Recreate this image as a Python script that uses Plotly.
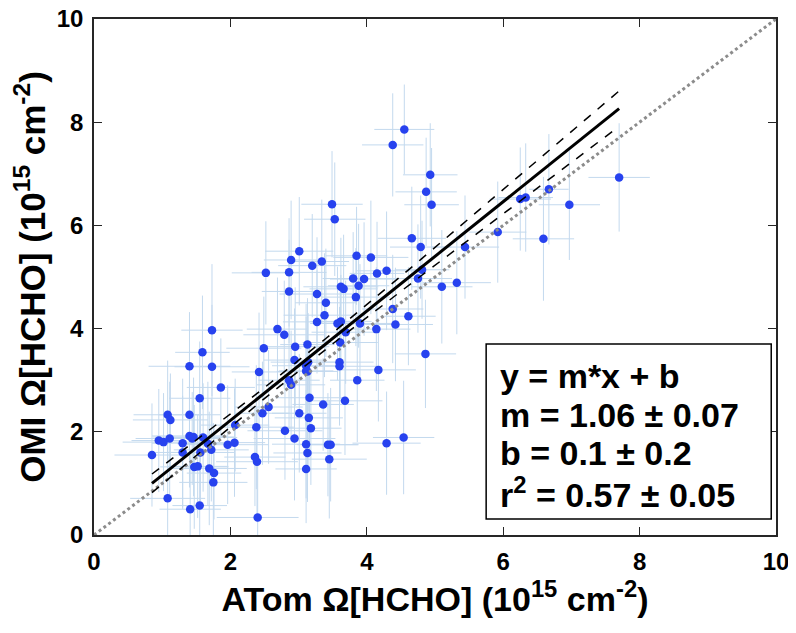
import numpy as np
import plotly.graph_objects as go

# ATom (x) and OMI (y) HCHO columns, 1e15 cm-2
atom = [2.52, 1.73, 1.59, 1.40, 1.73, 1.86, 1.55, 2.49, 2.42, 1.08,
        1.12, 1.40, 0.95, 1.02, 1.11, 1.30, 1.40, 1.46, 1.44, 1.60,
        1.67, 1.72, 1.56, 1.30, 0.85, 1.96, 2.06, 2.07, 2.38, 2.47,
        2.56, 2.36, 2.39, 1.47, 1.52, 1.69, 1.76, 1.75, 1.08, 1.41,
        1.55, 2.40, 4.55, 4.38, 3.49, 3.53, 4.66, 3.01, 2.89, 3.85,
        4.06, 3.20, 3.34, 2.86, 3.80, 3.96, 4.15, 4.29, 3.62, 3.66,
        3.88, 2.86, 3.27, 3.84, 3.40, 3.38, 3.27, 3.57, 3.62, 3.90,
        3.69, 4.38, 4.61, 4.42, 4.14, 2.69, 2.79, 2.95, 3.13, 3.61,
        2.94, 3.11, 3.14, 3.11, 3.13, 3.60, 3.60, 2.86, 2.89, 3.86,
        4.17, 3.16, 3.36, 3.68, 3.01, 3.15, 3.18, 2.80, 2.94, 3.11,
        3.43, 3.47, 3.13, 3.45, 3.11, 4.29, 4.54, 4.86, 7.70, 6.67,
        6.97, 6.25, 6.33, 5.92, 6.59, 5.44, 5.32, 4.93, 4.87, 4.95,
        4.79, 4.75, 4.81, 5.10]
omi = [5.08, 3.97, 3.54, 3.27, 3.26, 2.86, 2.65, 3.62, 3.16, 2.33,
       2.23, 2.33, 1.83, 1.80, 1.87, 1.78, 1.92, 1.90, 1.87, 1.89,
       1.77, 1.65, 1.60, 1.60, 1.55, 1.75, 1.79, 2.13, 2.09, 2.36,
       2.48, 1.51, 1.42, 1.32, 1.33, 1.29, 1.20, 1.02, 0.71, 0.50,
       0.57, 0.34, 7.86, 7.56, 6.41, 6.12, 5.75, 5.50, 5.33, 5.41,
       5.38, 5.22, 5.30, 5.09, 4.97, 4.96, 5.07, 5.12, 4.81, 4.77,
       4.83, 4.72, 4.67, 4.61, 4.50, 4.26, 4.13, 4.10, 4.14, 4.10,
       3.93, 4.38, 4.24, 4.08, 3.99, 3.99, 3.88, 3.65, 3.69, 3.73,
       3.39, 3.28, 3.35, 3.18, 3.17, 3.35, 3.27, 3.00, 2.91, 3.00,
       3.20, 2.66, 2.53, 2.60, 2.36, 2.27, 2.07, 2.02, 1.87, 1.76,
       1.75, 1.75, 1.59, 1.47, 1.28, 1.78, 1.89, 3.51, 6.93, 6.70,
       6.40, 6.51, 6.54, 5.87, 5.74, 5.58, 4.89, 6.98, 6.65, 6.40,
       5.58, 4.97, 5.14, 4.81]
atom_err = [0.50, 0.45, 0.40, 0.60, 0.55, 0.50, 0.45, 0.55, 0.40, 0.50,
            0.55, 0.45, 0.40, 0.60, 0.50, 0.45, 0.55, 0.60, 0.40, 0.50,
            0.45, 0.55, 0.50, 0.40, 0.55, 0.60, 0.45, 0.50, 0.55, 0.40,
            0.50, 0.45, 0.60, 0.50, 0.45, 0.55, 0.40, 0.50, 0.55, 0.45,
            0.40, 0.60, 0.44, 0.45, 0.45, 0.45, 0.50, 0.50, 0.40, 0.45,
            0.55, 0.50, 0.40, 0.55, 0.45, 0.50, 0.40, 0.45, 0.55, 0.50,
            0.45, 0.40, 0.55, 0.50, 0.45, 0.60, 0.50, 0.40, 0.45, 0.55,
            0.50, 0.45, 0.40, 0.55, 0.50, 0.45, 0.60, 0.50, 0.40, 0.55,
            0.45, 0.50, 0.55, 0.40, 0.45, 0.50, 0.60, 0.45, 0.50, 0.40,
            0.55, 0.50, 0.45, 0.55, 0.40, 0.50, 0.45, 0.55, 0.60, 0.50,
            0.45, 0.40, 0.50, 0.55, 0.45, 0.50, 0.45, 0.45, 0.45, 0.29,
            0.45, 0.45, 0.40, 0.42, 0.45, 0.50, 0.50, 0.40, 0.45, 0.40,
            0.45, 0.50, 0.40, 0.45]
omi_err = [1.00, 1.28, 1.10, 1.05, 1.20, 0.95, 1.10, 1.00, 1.15, 1.05,
           0.90, 1.20, 1.00, 0.95, 1.10, 1.25, 1.00, 1.15, 0.90, 1.05,
           1.20, 1.00, 0.95, 1.10, 1.00, 1.15, 1.05, 0.90, 1.20, 1.00,
           1.10, 0.95, 1.05, 1.20, 1.00, 1.10, 0.90, 1.15, 1.00, 1.05,
           0.95, 1.10, 0.87, 1.00, 1.03, 1.10, 1.00, 1.05, 1.15, 0.95,
           1.10, 1.00, 1.20, 1.05, 0.90, 1.10, 1.00, 1.15, 0.95, 1.05,
           1.20, 1.00, 1.10, 0.95, 1.05, 1.20, 1.00, 1.10, 0.90, 1.15,
           1.00, 1.05, 0.95, 1.10, 1.20, 1.00, 1.05, 1.15, 0.90, 1.10,
           1.00, 1.20, 0.95, 1.05, 1.10, 1.00, 1.15, 0.95, 1.05, 1.20,
           1.00, 1.10, 0.90, 1.05, 1.15, 1.00, 1.10, 0.95, 1.20, 1.05,
           1.00, 1.10, 0.95, 1.15, 1.05, 1.00, 1.10, 1.05, 1.05, 1.07,
           1.07, 1.00, 1.05, 0.98, 1.20, 1.00, 1.00, 1.00, 1.05, 1.10,
           1.00, 1.05, 0.95, 1.10]

# fit parameters (y = m*x + b)
m_fit, m_unc = 1.06, 0.07
b_fit, b_unc = 0.1, 0.2
r2, r2_unc = 0.57, 0.05
band_center_x = 3.0
band_offset = 0.1

tick_vals = [0, 2, 4, 6, 8, 10]
tick_text = ["0", "2", "4", "6", "8", "10"]
box_lines = ["y = m*x + b",
             "m = 1.06 \u00b1 0.07",
             "b = 0.1 \u00b1 0.2",
             "r<sup>2</sup> = 0.57 \u00b1 0.05"]

FONT = "Liberation Sans, Arial, Helvetica, sans-serif"

fig = go.Figure()

fig.add_trace(go.Scatter(
    x=atom, y=omi, mode="markers",
    marker=dict(color="#2742ef", size=8.5, line=dict(width=0)),
    error_x=dict(type="data", array=atom_err, color="#c3d9ee", thickness=1, width=0),
    error_y=dict(type="data", array=omi_err, color="#c3d9ee", thickness=1, width=0),
    showlegend=False, hoverinfo="x+y"))

# 1:1 line
fig.add_trace(go.Scatter(x=[0, 10], y=[0, 10], mode="lines",
                         line=dict(color="#8c8c8c", width=3, dash="dot"),
                         showlegend=False, hoverinfo="skip"))

xf = np.linspace(min(atom), max(atom), 60)
yf = m_fit * xf + b_fit
w = np.sqrt(band_offset ** 2 + (m_unc * (xf - band_center_x)) ** 2)

fig.add_trace(go.Scatter(x=xf, y=yf + w, mode="lines",
                         line=dict(color="black", width=1.5, dash="dash"),
                         showlegend=False, hoverinfo="skip"))
fig.add_trace(go.Scatter(x=xf, y=yf - w, mode="lines",
                         line=dict(color="black", width=1.5, dash="dash"),
                         showlegend=False, hoverinfo="skip"))
fig.add_trace(go.Scatter(x=xf, y=yf, mode="lines",
                         line=dict(color="black", width=3),
                         showlegend=False, hoverinfo="skip"))

# stats box
fig.add_shape(type="rect", xref="x", yref="y", x0=5.75, x1=9.93, y0=0.31, y1=3.70,
              line=dict(color="black", width=1.5), fillcolor="white", layer="above")
for txt, yy in zip(box_lines, [3.08, 2.33, 1.59, 0.83]):
    fig.add_annotation(x=5.92, y=yy, xref="x", yref="y", text=txt, showarrow=False,
                       xanchor="left", yanchor="middle",
                       font=dict(family=FONT, size=34, color="black", weight="bold"))

axis_common = dict(
    range=[0, 10], tickvals=tick_vals, ticktext=tick_text,
    ticks="inside", ticklen=8, tickwidth=1.2, tickcolor="#262626",
    showline=True, linecolor="#262626", linewidth=1.5, mirror="ticks",
    showgrid=False, zeroline=False, automargin=False,
    ticklabeloverflow="allow",
    tickfont=dict(family=FONT, size=24, color="black", weight="bold"),
)

fig.update_layout(
    width=796, height=633,
    margin=dict(l=86, r=28, t=11, b=106, autoexpand=False),
    paper_bgcolor="white", plot_bgcolor="white",
    xaxis=dict(**axis_common, ticklabelstandoff=4,
               title=dict(text="ATom \u03a9[HCHO] (10<sup>15</sup> cm<sup>-2</sup>)",
                          font=dict(family=FONT, size=34, color="black", weight="bold"),
                          standoff=12)),
    yaxis=dict(**axis_common, ticklabelstandoff=4,
               title=dict(text="OMI \u03a9[HCHO] (10<sup>15</sup> cm<sup>-2</sup>)",
                          font=dict(family=FONT, size=35, color="black", weight="bold"),
                          standoff=10)),
)

fig.write_html("out.html")
